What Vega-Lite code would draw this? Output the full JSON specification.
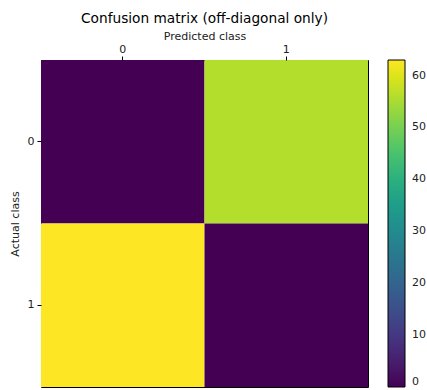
{
  "$schema": "https://vega.github.io/schema/vega-lite/v6.json",
  "autosize": "none",
  "width": 327,
  "height": 327,
  "padding": {"left": 41, "top": 60, "right": 59, "bottom": 3},
  "background": "white",
  "title": {"text": "Confusion matrix (off-diagonal only)", "font": "DejaVu Sans", "fontSize": 13.7, "fontWeight": "normal", "color": "black", "offset": 4},
  "data": {"values": [
    {"actual": "0", "predicted": "0", "count": 0},
    {"actual": "0", "predicted": "1", "count": 56},
    {"actual": "1", "predicted": "0", "count": 63},
    {"actual": "1", "predicted": "1", "count": 0}
  ]},
  "mark": {"type": "rect"},
  "encoding": {
    "x": {"field": "predicted", "type": "nominal", "scale": {"paddingInner": 0, "paddingOuter": 0},
      "axis": {"orient": "top", "title": "Predicted class", "labelAngle": 0, "labelFont": "DejaVu Sans", "labelFontSize": 11, "labelColor": "#222", "titleFont": "DejaVu Sans", "titleFontSize": 11, "titleFontWeight": "normal", "titleColor": "#222", "tickColor": "black", "tickSize": 4, "domain": false, "titlePadding": 2, "labelPadding": 2}},
    "y": {"field": "actual", "type": "nominal", "scale": {"paddingInner": 0, "paddingOuter": 0},
      "axis": {"title": "Actual class", "labelAngle": 0, "labelFont": "DejaVu Sans", "labelFontSize": 11, "labelColor": "#222", "titleFont": "DejaVu Sans", "titleFontSize": 11, "titleFontWeight": "normal", "titleColor": "#222", "tickColor": "black", "tickSize": 4, "domain": false, "titlePadding": 7, "labelPadding": 3}},
    "color": {"field": "count", "type": "quantitative", "scale": {"scheme": "viridis", "domain": [0, 63]},
      "legend": {"title": null, "gradientLength": 327, "gradientThickness": 17, "offset": 20, "values": [0, 10, 20, 30, 40, 50, 60], "labelFont": "DejaVu Sans", "labelFontSize": 11, "labelColor": "#222", "gradientStrokeColor": "black", "gradientStrokeWidth": 1, "labelOffset": 7}}
  },
  "config": {"view": {"stroke": "black", "strokeWidth": 1}}
}
